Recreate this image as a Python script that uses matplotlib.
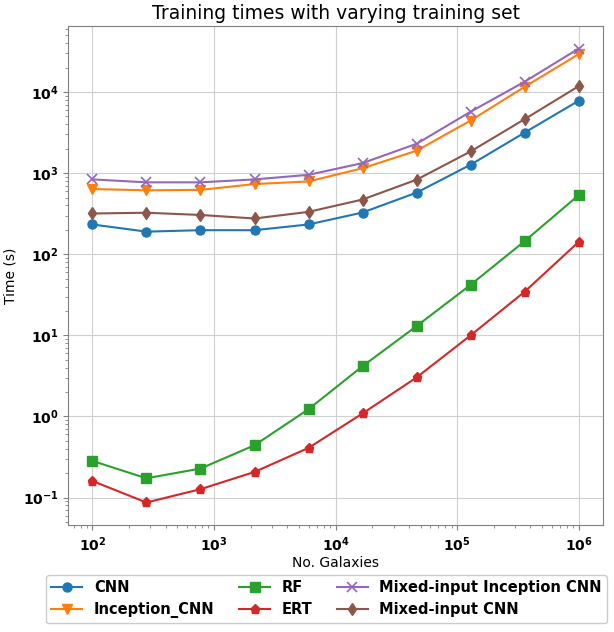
import matplotlib
matplotlib.use("Agg")
import matplotlib.pyplot as plt

n_galaxies = [100, 278, 774, 2154, 5995, 16681, 46416, 129155, 359381, 1000000]

cnn = [233, 190, 198, 198, 233, 327, 575, 1270, 3160, 7800]
inception_cnn = [637, 614, 622, 733, 790, 1150, 1890, 4450, 11600, 29300]
rf = [0.283, 0.173, 0.228, 0.442, 1.23, 4.17, 13.0, 42.0, 145, 535]
ert = [0.16, 0.087, 0.127, 0.207, 0.41, 1.09, 3.03, 10.0, 34.5, 142]
mixed_inception_cnn = [837, 770, 770, 837, 953, 1330, 2300, 5720, 13400, 34300]
mixed_cnn = [318, 325, 305, 276, 333, 473, 830, 1850, 4630, 11800]

series = [
    ("CNN", cnn, "o", "#1f77b4"),
    ("Inception_CNN", inception_cnn, "v", "#ff7f0e"),
    ("RF", rf, "s", "#2ca02c"),
    ("ERT", ert, "p", "#d62728"),
    ("Mixed-input Inception CNN", mixed_inception_cnn, "x", "#9467bd"),
    ("Mixed-input CNN", mixed_cnn, "d", "#8c564b"),
]

fig = plt.figure(figsize=(6.14, 6.32), dpi=100)
ax = fig.add_axes([0.111, 0.169, 0.871, 0.790])

for label, vals, m, c in series:
    ax.plot(n_galaxies, vals, marker=m, color=c, label=label, markersize=6.5,
            linewidth=1.5, markeredgewidth=1.2 if m == "x" else 1.0)

ax.set_xscale("log")
ax.set_yscale("log")
ax.grid(True, which="major", color="#d0d0d0", linewidth=0.8)
ax.set_axisbelow(True)
for s in ax.spines.values():
    s.set_color("#808080")
ax.tick_params(which="both", colors="#808080", labelcolor="black")
ax.tick_params(axis="both", which="major", labelsize=10)
for t in ax.get_xticklabels() + ax.get_yticklabels():
    t.set_fontweight("bold")

ax.set_title("Training times with varying training set", fontsize=13.5, pad=5)
ax.set_xlabel("No. Galaxies", fontsize=10, labelpad=2)
ax.set_ylabel("Time (s)", fontsize=10)

fig.legend(loc="lower center", bbox_to_anchor=(0.532, 0.002), ncol=3,
           prop={"weight": "bold", "size": 10.5}, handlelength=2.1,
           columnspacing=1.7, framealpha=1.0, borderpad=0.35)

fig.savefig("out.png", dpi=100)
